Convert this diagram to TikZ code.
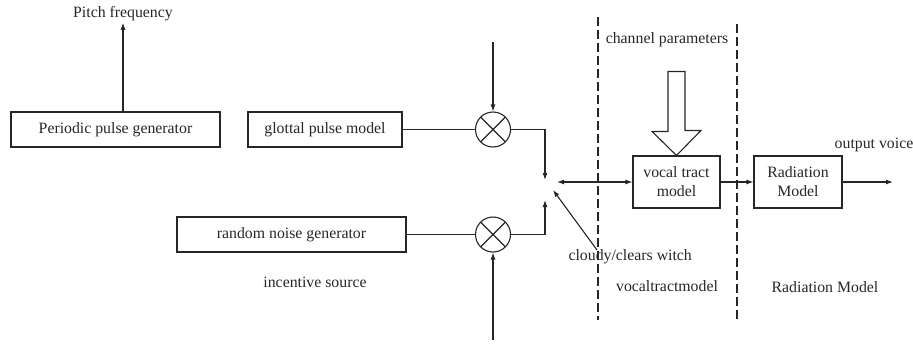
\documentclass[tikz,border=0pt]{standalone}
\usepackage{fontspec}
\setmainfont{Liberation Serif}
\usetikzlibrary{arrows.meta, positioning, calc}

\begin{document}
\begin{tikzpicture}[x=1pt, y=-1pt, line width=1.1pt, draw=black!85, text=black!85,
  font=\fontsize{15.8}{19}\selectfont,
  >={Latex[length=7pt,width=5pt]},
  blk/.style={draw, rectangle, inner sep=0pt, align=center},
  mult/.style={draw, circle, minimum size=35pt, inner sep=0pt,
    path picture={\draw (path picture bounding box.north west) -- (path picture bounding box.south east)
                        (path picture bounding box.north east) -- (path picture bounding box.south west);}},
  lbl/.style={inner sep=1pt},
  sep/.style={dash pattern=on 9pt off 4pt}]

  \useasboundingbox (0,0) rectangle (913,343);

  % --- source part ---
  \node[blk, minimum width=209pt, minimum height=35pt] (periodic) at (115.5,129.5) {Periodic pulse generator};
  \node[lbl] (pitch) at (123,14) {Pitch frequency};
  \draw[->] (periodic.north -| pitch) -- (pitch.south);

  \node[blk, minimum width=154pt, minimum height=35pt] (glottal) at (325,129.5) {glottal pulse model};
  \node[blk, minimum width=229pt, minimum height=35pt] (noise) at (291.5,234.5) {random noise generator};
  \node[lbl] (incentive) at (315,282) {incentive source};

  % multipliers
  \node[mult] (mulA) at (493,129.5) {};
  \node[mult] (mulB) at (493,234.5) {};
  \coordinate (inA) at (493,42);
  \coordinate (inB) at (493,340);
  \draw (glottal.east) -- (mulA.west);
  \draw (noise.east) -- (mulB.west);
  \draw[->] (inA) -- (mulA.north);
  \draw[->] (inB) -- (mulB.south);

  % --- switch ---
  \coordinate (swTop) at (545,180);
  \coordinate (swBot) at (545,200);
  \coordinate (swOut) at (557,182);
  \coordinate (swTip) at (553,190);
  \draw[->] (mulA.east) -| (swTop);
  \draw[->] (mulB.east) -| (swBot);
  \node[lbl, anchor=west] (switch) at (567,257) {cloudy/clears witch};
  \coordinate (swFoot) at (597,250);
  \draw[->] (swFoot) -- (swTip);

  % --- vocal tract part ---
  \draw[sep] (598,17) -- (598,320);
  \draw[sep] (737,24) -- (737,322);
  \node[lbl] (channel) at (667,40) {channel parameters};
  \node[blk, minimum width=87pt, minimum height=52pt] (tract) at (676.5,182) {vocal tract\\model};
  \draw[<->] (swOut) -- (tract.west);
  \draw ($(tract.north)+(-8.5,-84)$) -- ++(17,0) -- ++(0,59) -- ++(16,0)
        -- (tract.north) -- ++(-24.5,-24) -- ++(16,0) -- cycle;
  \node[lbl] (tractlbl) at (667,286) {vocaltractmodel};

  % --- radiation part ---
  \node[blk, minimum width=88pt, minimum height=52pt] (radiation) at (798,182) {Radiation\\Model};
  \draw[->] (tract.east) -- (radiation.west);
  \coordinate (voiceEnd) at (893,182);
  \draw[->] (radiation.east) -- (voiceEnd);
  \node[lbl] (voice) at (874,145) {output voice};
  \node[lbl] (radlbl) at (825,287) {Radiation Model};

\end{tikzpicture}
\end{document}
